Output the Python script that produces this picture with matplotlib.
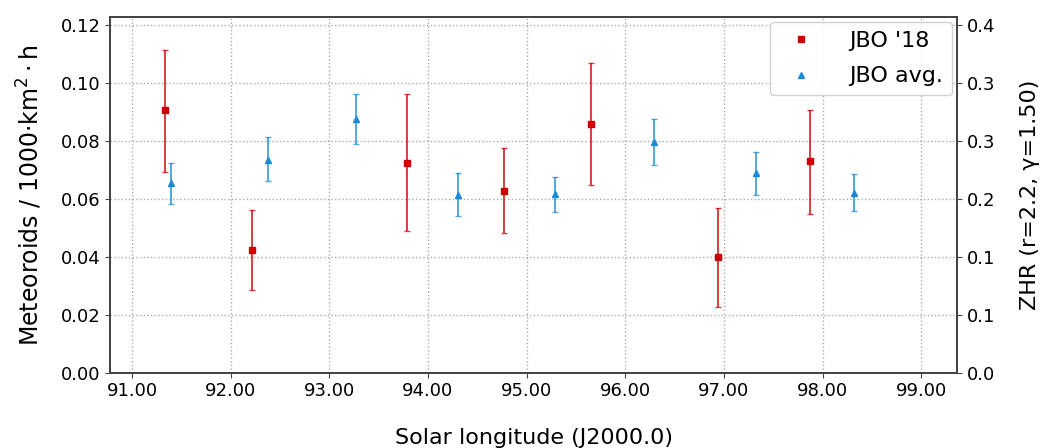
import matplotlib.pyplot as plt
import numpy as np

# JBO '18 (red squares)
sl_18 = [91.34, 92.22, 93.79, 94.77, 95.65, 96.94, 97.87]
flux_18 = [0.0906, 0.0424, 0.0726, 0.0627, 0.0860, 0.0398, 0.0731]
flux_18_hi = [0.1114, 0.0561, 0.0963, 0.0777, 0.1071, 0.0570, 0.0909]
flux_18_lo = [0.0694, 0.0287, 0.0490, 0.0482, 0.0648, 0.0228, 0.0548]

# JBO avg. (blue triangles)
sl_avg = [91.40, 92.38, 93.27, 94.30, 95.29, 96.29, 97.32, 98.32]
flux_avg = [0.0654, 0.0734, 0.0875, 0.0613, 0.0617, 0.0796, 0.0689, 0.0621]
flux_avg_hi = [0.0726, 0.0815, 0.0964, 0.0689, 0.0677, 0.0876, 0.0761, 0.0685]
flux_avg_lo = [0.0582, 0.0662, 0.0790, 0.0541, 0.0556, 0.0718, 0.0614, 0.0557]

xticks = [91, 92, 93, 94, 95, 96, 97, 98, 99]
yticks = [0.0, 0.02, 0.04, 0.06, 0.08, 0.10, 0.12]
zhr_labels = ["0.0", "0.1", "0.1", "0.2", "0.3", "0.3", "0.4"]

red = "#cc0000"
blue = "#1a8ad4"

fig = plt.figure(figsize=(10.4, 4.48), dpi=100)
ax = fig.add_axes([0.106, 0.168, 0.814, 0.793])

f18 = np.array(flux_18)
err18 = [f18 - np.array(flux_18_lo), np.array(flux_18_hi) - f18]
fa = np.array(flux_avg)
erra = [fa - np.array(flux_avg_lo), np.array(flux_avg_hi) - fa]

ax.errorbar(sl_18, f18, yerr=err18, fmt="none", ecolor=red, elinewidth=1.4,
            capsize=2, capthick=1.0, alpha=0.75)
ax.errorbar(sl_avg, fa, yerr=erra, fmt="none", ecolor=blue, elinewidth=1.4,
            capsize=2, capthick=1.0, alpha=0.75)
ax.plot(sl_18, f18, "s", color=red, markersize=5, label="JBO '18")
ax.plot(sl_avg, fa, "^", color=blue, markersize=5, label="JBO avg.")

ax.set_xlim(90.78, 99.36)
ax.set_ylim(0, 0.1227)
ax.set_xticks(xticks)
ax.set_xticklabels(["%.2f" % x for x in xticks])
ax.set_yticks(yticks)
ax.set_yticklabels(["%.2f" % y for y in yticks])
ax.tick_params(labelsize=13, color="#444444")
ax.grid(True, linestyle=":", color="#aaaaaa", linewidth=1.0)
ax.set_xlabel("Solar longitude (J2000.0)", fontsize=16, labelpad=20)
ax.set_ylabel(r"Meteoroids / 1000·km$^2\cdot$h", fontsize=17, labelpad=12)

ax2 = ax.twinx()
ax2.set_ylim(ax.get_ylim())
ax2.set_yticks(yticks)
ax2.set_yticklabels(zhr_labels)
ax2.tick_params(labelsize=13, color="#444444")
ax2.set_ylabel("ZHR (r=2.2, γ=1.50)", fontsize=16, labelpad=18)

for a in (ax, ax2):
    for s in a.spines.values():
        s.set_color("#444444")
        s.set_linewidth(1.4)

leg = ax.legend(loc="upper right", fontsize=16, handletextpad=1.2,
                borderpad=0.4, borderaxespad=0.2, labelspacing=0.7,
                framealpha=0.9)

fig.savefig("out.png", dpi=100)
